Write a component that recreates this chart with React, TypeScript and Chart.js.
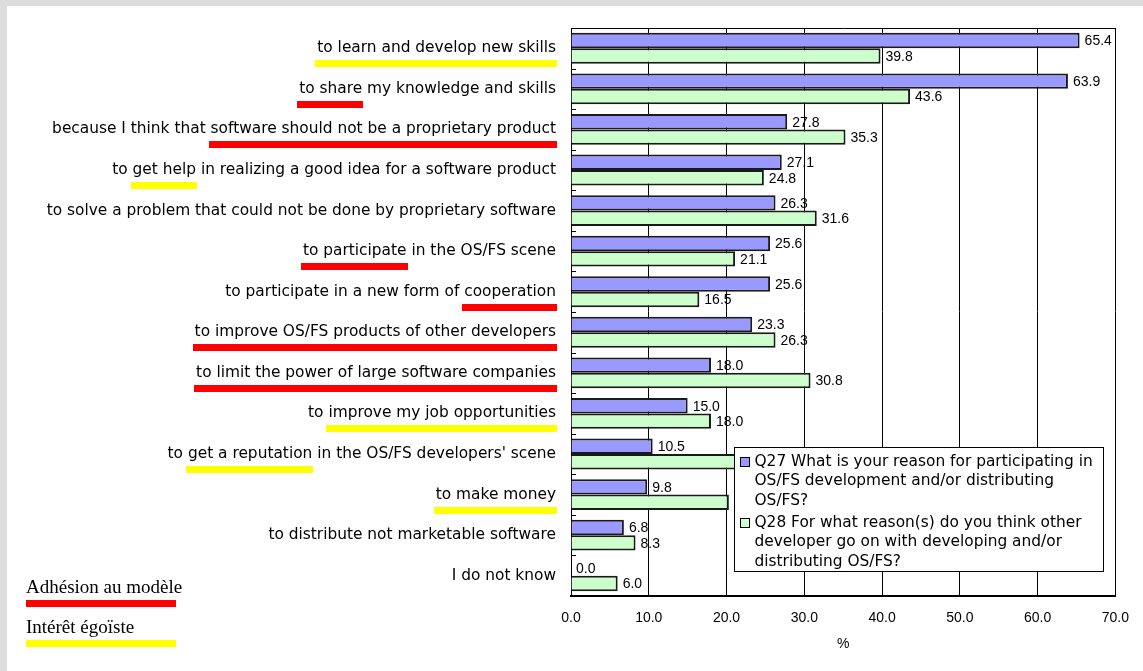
import React, { useEffect, useRef } from "react";
import { Chart, registerables } from "chart.js";

Chart.register(...registerables);

const categories = [
  "to learn and develop new skills",
  "to share my knowledge and skills",
  "because I think that software should not be a proprietary product",
  "to get help in realizing a good idea for a software product",
  "to solve a problem that could not be done by proprietary software",
  "to participate in the OS/FS scene",
  "to participate in a new form of cooperation",
  "to improve OS/FS products of other developers",
  "to limit the power of large software companies",
  "to improve my job opportunities",
  "to get a reputation in the OS/FS developers' scene",
  "to make money",
  "to distribute not marketable software",
  "I do not know",
];

const q27Values = [65.4, 63.9, 27.8, 27.1, 26.3, 25.6, 25.6, 23.3, 18.0, 15.0, 10.5, 9.8, 6.8, 0.0];
const q28Values = [39.8, 43.6, 35.3, 24.8, 31.6, 21.1, 16.5, 26.3, 30.8, 18.0, 24.1, 20.3, 8.3, 6.0];

const xMin = 0;
const xMax = 70;
const xStep = 10;
const xTitle = "%";

const q27Legend = [
  "Q27 What is your reason for participating in",
  "OS/FS development and/or distributing",
  "OS/FS?",
];
const q28Legend = [
  "Q28 For what reason(s) do you think other",
  "developer go on with developing and/or",
  "distributing OS/FS?",
];

// [category index, underlined words, group]
const underlines: [number, string, number][] = [
  [0, "to learn and develop new skills", 1],
  [1, "to share", 0],
  [2, "software should not be a proprietary product", 0],
  [3, "get help", 1],
  [5, "to participate", 0],
  [6, "cooperation", 0],
  [7, "to improve OS/FS products of other developers", 0],
  [8, "to limit the power of large software companies", 0],
  [9, "improve my job opportunities", 1],
  [10, "get a reputation", 1],
  [11, "to make money", 1],
];

const groupNames = ["Adhésion au modèle", "Intérêt égoïste"];
const groupColors = ["#ff0000", "#ffff00"];

const q27Color = "#9999ff";
const q28Color = "#ccffcc";

const LABEL_SIZE = 15.4;
const LABEL_FAMILY = "'DejaVu Sans', sans-serif";
const LABEL_FONT = `${LABEL_SIZE}px ${LABEL_FAMILY}`;
const NUM_FAMILY = "'Liberation Sans', Arial, sans-serif";
const VALUE_FONT = `14px ${NUM_FAMILY}`;
const LABEL_PAD = 15;

const W = 1143;
const H = 671;

const decorPlugin = {
  id: "decor",
  beforeDraw(chart: any) {
    // value labels (drawn first so grid lines cross them as in the original)
    const ctx = chart.ctx;
    ctx.save();
    ctx.font = VALUE_FONT;
    ctx.fillStyle = "#000";
    ctx.textAlign = "left";
    ctx.textBaseline = "middle";
    chart.data.datasets.forEach((ds: any, di: number) => {
      const meta = chart.getDatasetMeta(di);
      meta.data.forEach((bar: any, i: number) => {
        const v = ds.data[i];
        ctx.fillText(Number(v).toFixed(1), bar.x + 5, bar.y + 1);
      });
    });
    ctx.restore();
  },
  afterDraw(chart: any) {
    const ctx = chart.ctx;
    const area = chart.chartArea;
    const y = chart.scales.y;
    ctx.save();

    // top border of plot
    ctx.strokeStyle = "#000";
    ctx.lineWidth = 1;
    ctx.beginPath();
    ctx.moveTo(Math.round(area.left) + 0.5, Math.round(area.top) + 0.5);
    ctx.lineTo(Math.round(area.right) + 0.5, Math.round(area.top) + 0.5);
    ctx.stroke();

    // small category separator ticks inside the plot
    const n = categories.length;
    const step = (area.bottom - area.top) / n;
    ctx.beginPath();
    for (let i = 1; i < n; i++) {
      const yy = Math.round(area.top + step * i) + 0.5;
      ctx.moveTo(area.left, yy);
      ctx.lineTo(area.left + 5, yy);
    }
    ctx.stroke();

    // coloured underlines on category labels
    ctx.font = LABEL_FONT;
    underlines.forEach(([idx, words, g]) => {
      const label = categories[idx];
      const right = area.left - LABEL_PAD;
      const fullW = ctx.measureText(label).width;
      const start = label.indexOf(words);
      const x0 = right - fullW + ctx.measureText(label.slice(0, start)).width;
      const w = ctx.measureText(words).width;
      const yc = y.getPixelForValue(idx);
      ctx.fillStyle = groupColors[g];
      ctx.fillRect(Math.round(x0 - 2), Math.round(yc + 12), Math.round(w + 3), 7);
    });

    // legend box
    const bx = Math.round(area.left + 163) + 0.5;
    const by = Math.round(area.top + 419) + 0.5;
    const bw = 369;
    const bh = 124;
    ctx.fillStyle = "#fff";
    ctx.fillRect(bx, by, bw, bh);
    ctx.strokeStyle = "#000";
    ctx.strokeRect(bx, by, bw, bh);
    ctx.font = LABEL_FONT;
    ctx.textAlign = "left";
    ctx.textBaseline = "middle";
    const items: [string[], string][] = [
      [q27Legend, q27Color],
      [q28Legend, q28Color],
    ];
    let ly = by + 14;
    items.forEach(([lines, color]) => {
      ctx.fillStyle = color;
      ctx.fillRect(bx + 6, Math.round(ly - 5), 9, 9);
      ctx.strokeStyle = "#000";
      ctx.strokeRect(bx + 6, Math.round(ly - 5) + 0.5, 9, 9);
      ctx.fillStyle = "#000";
      lines.forEach((t, k) => {
        ctx.fillText(t, bx + 20, ly + k * 19.5);
      });
      ly += 61;
    });

    // group key at bottom left
    ctx.font = "19px 'Liberation Serif', 'Times New Roman', serif";
    ctx.textBaseline = "alphabetic";
    groupNames.forEach((name, g) => {
      const ty = 593 + g * 40;
      ctx.fillStyle = "#000";
      ctx.fillText(name, 26, ty);
      ctx.fillStyle = groupColors[g];
      ctx.fillRect(26, ty + 7, 150, 7);
    });

    ctx.restore();
  },
};

export default function App() {
  const ref = useRef<HTMLCanvasElement | null>(null);

  useEffect(() => {
    if (!ref.current) return;
    const xTickValues: number[] = [];
    for (let v = xMin; v <= xMax; v += xStep) xTickValues.push(v);
    const chart = new Chart(ref.current, {
      type: "bar",
      data: {
        labels: categories,
        datasets: [
          {
            label: "Q27",
            data: q27Values,
            backgroundColor: q27Color,
            borderColor: "#1a1a1a",
            borderWidth: 2,
            categoryPercentage: 0.76,
            barPercentage: 1,
          },
          {
            label: "Q28",
            data: q28Values,
            backgroundColor: q28Color,
            borderColor: "#1a1a1a",
            borderWidth: 2,
            categoryPercentage: 0.76,
            barPercentage: 1,
          },
        ],
      },
      options: {
        indexAxis: "y",
        responsive: false,
        animation: false,
        devicePixelRatio: 1,
        layout: { padding: { left: 0, right: 26, top: 28, bottom: 0 } },
        plugins: {
          legend: { display: false },
          tooltip: { enabled: false },
        },
        scales: {
          x: {
            type: "linear",
            min: xMin,
            max: xMax,
            afterBuildTicks: (s: any) => {
              s.ticks = xTickValues.map((v) => ({ value: v }));
            },
            ticks: {
              callback: (v: any) => Number(v).toFixed(1),
              font: { family: NUM_FAMILY, size: 14 },
              color: "#000",
              padding: 14,
              maxRotation: 0,
            },
            grid: { color: "#000", lineWidth: 1, drawTicks: false },
            border: { color: "#000", width: 2 },
            title: {
              display: true,
              text: xTitle,
              color: "#000",
              font: { family: NUM_FAMILY, size: 14 },
              padding: { top: 0, bottom: 18 },
            },
            afterFit: (s: any) => {
              s.height = 75;
            },
          },
          y: {
            type: "category",
            ticks: {
              font: { family: LABEL_FAMILY, size: LABEL_SIZE },
              color: "#000",
              padding: LABEL_PAD,
              autoSkip: false,
            },
            grid: { display: false, drawTicks: false },
            border: { color: "#000", width: 1 },
            afterFit: (s: any) => {
              s.width = 571;
            },
          },
        },
      } as any,
      plugins: [decorPlugin],
    });
    return () => chart.destroy();
  }, []);

  return (
    <div style={{ position: "fixed", left: 0, top: 0, width: W, height: H, background: "#dcdcdc", overflow: "hidden" }}>
      <div style={{ position: "absolute", left: 7, top: 6, right: 0, bottom: 0, background: "#fff" }} />
      <canvas ref={ref} width={W} height={H} style={{ position: "absolute", left: 0, top: 0, width: W, height: H }} />
    </div>
  );
}
